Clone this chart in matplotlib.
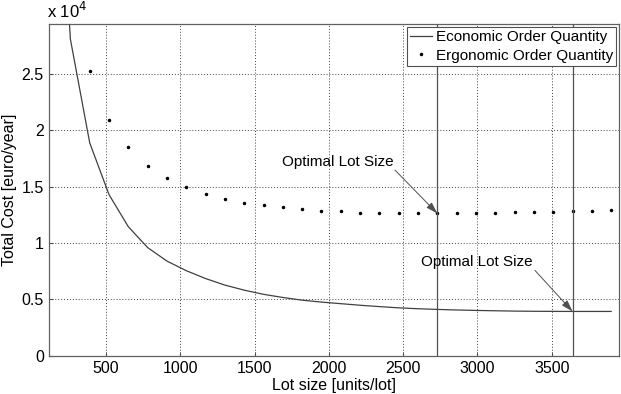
import matplotlib.pyplot as plt

plt.rcParams['font.family'] = ['Liberation Sans', 'DejaVu Sans']

# lot sizes (units/lot)
lot_size = [130, 260, 390, 520, 650, 780, 910, 1040, 1170, 1300,
            1430, 1560, 1690, 1820, 1950, 2080, 2210, 2340, 2470, 2600,
            2730, 2860, 2990, 3120, 3250, 3380, 3510, 3640, 3770, 3900]

# total cost, classic EOQ model (euro/year)
eoq_cost = [56000, 28100, 18900, 14300, 11450, 9600, 8400, 7550, 6850, 6270,
            5820, 5450, 5170, 4930, 4760, 4620, 4480, 4360, 4250, 4170,
            4110, 4060, 4020, 3990, 3960, 3945, 3935, 3930, 3930, 3930]

# ergonomic model is evaluated from the third lot size on
ergo_lot = lot_size[2:]
ergo_cost = [25240, 20950, 18490, 16860, 15750, 14970, 14350, 13930, 13590, 13350,
             13170, 13020, 12870, 12815, 12690, 12665, 12660, 12635, 12630, 12635,
             12660, 12665, 12720, 12725, 12780, 12840, 12870, 12930]

eoq_opt = (3640, 3930)
ergo_opt = (2730, 12630)

fig = plt.figure(figsize=(6.21, 3.94), dpi=100)
ax = fig.add_axes([0.0794, 0.0972, 0.9179, 0.8418])

ax.plot(lot_size, eoq_cost, color='#404040', lw=0.9, label='Economic Order Quantity')
ax.plot(ergo_lot, ergo_cost, ls='none', marker='.', ms=3, color='black',
        label='Ergonomic Order Quantity')

ax.axvline(ergo_opt[0], color='#505050', lw=0.9)
ax.axvline(eoq_opt[0], color='#505050', lw=0.9)

arrow = dict(arrowstyle='-|>,head_length=0.7,head_width=0.22', color='#505050',
             lw=0.7, shrinkA=0, shrinkB=0)
ax.annotate('', xy=ergo_opt, xytext=(2445, 16480), arrowprops=arrow)
ax.annotate('', xy=eoq_opt, xytext=(3387, 7575), arrowprops=arrow)
ax.text(2057, 17220, 'Optimal Lot Size', ha='center', va='center', fontsize=11)
ax.text(2995, 8313, 'Optimal Lot Size', ha='center', va='center', fontsize=11)

ax.set_xlim(118, 3955)
ax.set_ylim(0, 29450)
ax.set_xticks([500, 1000, 1500, 2000, 2500, 3000, 3500])
ax.set_yticks([0, 5000, 10000, 15000, 20000, 25000])
ax.set_yticklabels(['0', '0.5', '1', '1.5', '2', '2.5'])
ax.tick_params(direction='in', length=3, labelsize=11.5, color='#505050', pad=4)
ax.grid(True, color='#404040', ls=(0, (1, 2)), lw=0.7)
for s in ax.spines.values():
    s.set_color('#606060')
    s.set_linewidth(0.9)

ax.text(-0.004, 1.01, r'x 10$^4$', transform=ax.transAxes, fontsize=12,
        ha='left', va='bottom')
ax.set_xlabel('Lot size [units/lot]', fontsize=11.5, labelpad=1)
ax.set_ylabel('Total Cost [euro/year]', fontsize=11.5, labelpad=3)

leg = ax.legend(loc='upper right', fontsize=11, borderaxespad=0.2, borderpad=0.2,
                handlelength=1.45, handletextpad=0.25, labelspacing=0.3,
                fancybox=False, framealpha=1, edgecolor='#505050')
leg.get_frame().set_linewidth(0.8)

plt.savefig('out.png')
